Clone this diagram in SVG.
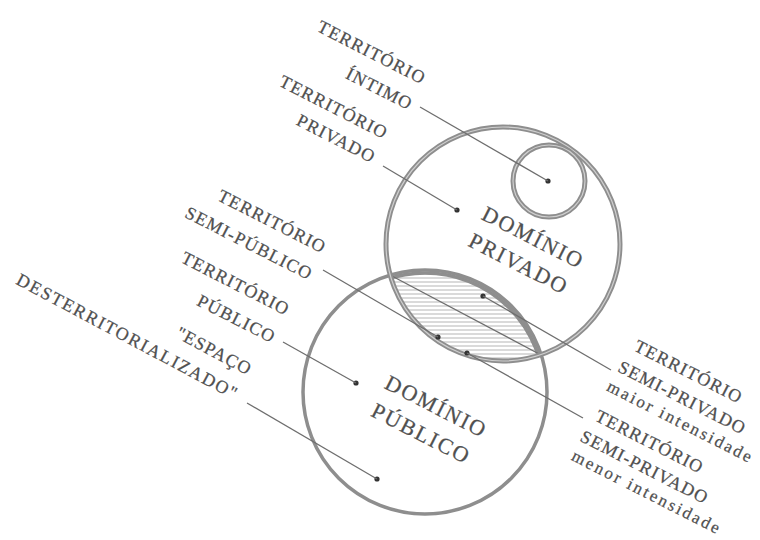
<svg xmlns="http://www.w3.org/2000/svg" width="760" height="540" viewBox="0 0 760 540">
<style>
.lbl{font-family:"Liberation Serif","Times New Roman",serif;font-size:18px;fill:#505050;stroke:#505050;stroke-width:0.25;letter-spacing:1.2px}
.low{font-size:17px;letter-spacing:2.4px}
.dom{font-family:"Liberation Serif","Times New Roman",serif;font-size:22px;fill:#505050;stroke:#505050;stroke-width:0.25;letter-spacing:2px;text-anchor:middle}
.ring{fill:none;stroke:#8e8e8e;stroke-width:5}
.ringin{fill:none;stroke:#cfcfcf;stroke-width:1.2}
.pub{fill:none;stroke:#8e8e8e;stroke-width:3.5}
.lead{stroke:#6e6e6e;stroke-width:1.3;fill:none}
.dot{fill:#333}
</style>
<defs>
<pattern id="hatch" patternUnits="userSpaceOnUse" width="10" height="4">
<line x1="0" y1="2" x2="10" y2="2" stroke="#b5b5b5" stroke-width="1"/>
</pattern>
<clipPath id="pubClip"><circle cx="425" cy="392" r="122"/></clipPath>
<clipPath id="privClip"><circle cx="503" cy="244" r="117"/></clipPath>
</defs>
<rect width="760" height="540" fill="#fff"/>

<g id="lens">
<circle cx="503" cy="244" r="117" fill="url(#hatch)" clip-path="url(#pubClip)"/>
<circle cx="425" cy="392" r="119" class="pub" clip-path="url(#privClip)" stroke-width="1.6"/>
<line x1="390" y1="275" x2="541" y2="355" class="lead" stroke-width="1.8"/>
</g>

<g id="dominio-publico">
<circle cx="425" cy="392" r="122" class="pub"/>
<g transform="translate(433,413) rotate(27)">
<text class="dom" x="0" y="0">DOMÍNIO</text>
<text class="dom" x="-1" y="31">PÚBLICO</text>
</g>
</g>

<g id="dominio-privado">
<circle cx="503" cy="244" r="117" class="ring"/>
<circle cx="503" cy="244" r="117" class="ringin"/>
<g transform="translate(530,244) rotate(27)">
<text class="dom" x="0" y="0">DOMÍNIO</text>
<text class="dom" x="-1" y="30">PRIVADO</text>
</g>
</g>

<g id="territorio-intimo">
<circle cx="549" cy="181" r="36" class="ring"/>
<circle cx="549" cy="181" r="36" class="ringin"/>
<g transform="translate(408,110) rotate(27)" text-anchor="end">
<text class="lbl" x="1" y="-29">TERRITÓRIO</text>
<text class="lbl" x="1" y="0">ÍNTIMO</text>
</g>
<circle cx="548" cy="181" r="2.6" class="dot"/>
</g>

<g id="territorio-privado">
<g transform="translate(371,163) rotate(27)" text-anchor="end">
<text class="lbl" x="1" y="-27">TERRITÓRIO</text>
<text class="lbl" x="1" y="0">PRIVADO</text>
</g>
<circle cx="457" cy="210" r="2.6" class="dot"/>
</g>

<g id="territorio-semi-publico">
<g transform="translate(308,280) rotate(27)" text-anchor="end">
<text class="lbl" x="1" y="-30">TERRITÓRIO</text>
<text class="lbl" x="1" y="0">SEMI-PÚBLICO</text>
</g>
<circle cx="438" cy="337" r="2.6" class="dot"/>
</g>

<g id="territorio-publico">
<g transform="translate(271,343) rotate(27)" text-anchor="end">
<text class="lbl" x="1" y="-31">TERRITÓRIO</text>
<text class="lbl" x="1" y="0">PÚBLICO</text>
</g>
<circle cx="356" cy="383" r="2.6" class="dot"/>
</g>

<g id="espaco-desterritorializado">
<g transform="translate(234,400) rotate(28)" text-anchor="end">
<text class="lbl" x="1" y="-28">"ESPAÇO</text>
<text class="lbl" x="0" y="0" textLength="248" lengthAdjust="spacing">DESTERRITORIALIZADO"</text>
</g>
<circle cx="377" cy="479" r="2.6" class="dot"/>
</g>

<g id="semi-privado-maior">
<g transform="translate(633,350) rotate(27)">
<text class="lbl" x="0" y="0">TERRITÓRIO</text>
<text class="lbl" x="-5" y="26">SEMI-PRIVADO</text>
<text class="lbl low" x="-6" y="48">maior intensidade</text>
</g>
<circle cx="483" cy="296" r="2.6" class="dot"/>
</g>

<g id="semi-privado-menor">
<g transform="translate(594,420) rotate(27)">
<text class="lbl" x="0" y="0">TERRITÓRIO</text>
<text class="lbl" x="-4" y="25">SEMI-PRIVADO</text>
<text class="lbl low" x="-3" y="46">menor intensidade</text>
</g>
<circle cx="467" cy="353" r="2.6" class="dot"/>
</g>

<g id="connectors">
<line x1="420" y1="107" x2="548" y2="181" class="lead"/>
<line x1="383" y1="166" x2="457" y2="210" class="lead"/>
<line x1="323" y1="270" x2="438" y2="337" class="lead"/>
<line x1="283" y1="342" x2="356" y2="383" class="lead"/>
<line x1="247" y1="403" x2="377" y2="479" class="lead"/>
<line x1="483" y1="296" x2="611" y2="370" class="lead"/>
<line x1="467" y1="353" x2="583" y2="418" class="lead"/>
</g>
</svg>
